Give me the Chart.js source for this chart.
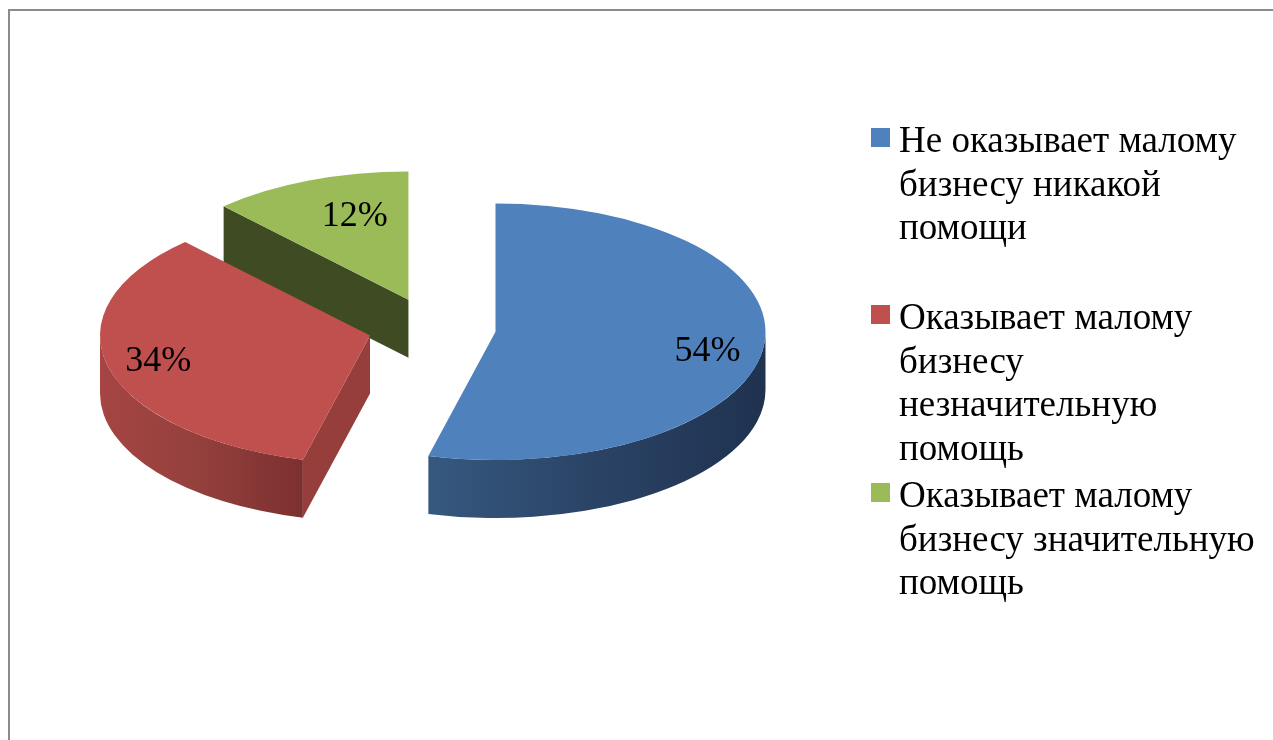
<!DOCTYPE html>
<html>
<head>
<meta charset="utf-8">
<script src="https://cdn.jsdelivr.net/npm/chart.js@4.4.0/dist/chart.umd.min.js"></script>
<style>
  html, body { margin: 0; padding: 0; background: #fff; overflow: hidden; }
  #wrap { position: relative; width: 1273px; height: 740px; overflow: hidden; }
  #frame { position: absolute; left: 8px; top: 9px; width: 1300px; height: 800px;
           border-top: 2px solid #8c8c8c; border-left: 2px solid #8c8c8c; }
  #chart { position: absolute; left: 0; top: 0; }
  #legend { position: absolute; left: 871px; top: 0; font-family: "Liberation Serif", "Times New Roman", serif;
            font-size: 37px; line-height: 43.5px; color: #000; }
  .item { position: absolute; left: 0; width: 400px; }
  .box { position: absolute; left: 0; top: 10px; width: 19px; height: 19px; }
  .txt { position: absolute; left: 28px; top: 0; width: 368px; }
</style>
</head>
<body>
<div id="wrap">
  <div id="frame"></div>
  <canvas id="chart" width="1273" height="740"></canvas>
  <div id="legend"></div>
</div>
<script>
// data
const categories = [
    'Не оказывает малому бизнесу никакой помощи',
    'Оказывает малому бизнесу незначительную помощь',
    'Оказывает малому бизнесу значительную помощь'
];
const shares = [54, 34, 12];
const pctLabels = shares.map(v => v + '%');
const topColors = ['#4f81bd', '#c0504d', '#9bbb59'];

// 3d look
const TILT = 0.475;
const DEPTH = 58;
const EXPLODE = 64;
const labelRadius = [0.8, 0.81, 0.68];
const labelTurn = [0.07, 0, 0.08];
const sideColors = [
    { rim: ['#36587f', '#2a4365', '#1f3250'], face: '#1f3250' },
    { rim: ['#a64543', '#93403d', '#7c302f'], face: '#953e3b' },
    { rim: ['#4a5a28', '#434f24', '#3b4720'], face: '#3f4b22' }
];

function centerY(chart) {
    return (chart.chartArea.top + chart.chartArea.bottom) / 2;
}

const pie3d = {
    id: 'pie3d',
    afterDatasetUpdate(chart, args) {
        // explode every slice away from the center
        const area = chart.chartArea;
        const cx = (area.left + area.right) / 2;
        const cy = centerY(chart);
        args.meta.data.forEach(a => {
            const mid = (a.startAngle + a.endAngle) / 2;
            a.x = cx + Math.cos(mid) * EXPLODE;
            a.y = cy + Math.sin(mid) * EXPLODE;
        });
    },
    beforeDatasetDraw(chart, args) {
        const ctx = chart.ctx;
        const cy = centerY(chart);
        args.meta.data.forEach((a, i) => {
            const X = a.x, Y = cy + (a.y - cy) * TILT;
            const r = a.outerRadius, ry = r * TILT;
            const s = a.startAngle, e = a.endAngle;
            const col = sideColors[i];
            // cut faces turned to the viewer
            const faces = [];
            if (Math.cos(s) < -1e-3) faces.push(s);
            if (Math.cos(e) > 1e-3) faces.push(e);
            faces.forEach(t => {
                const px = X + r * Math.cos(t), py = Y + ry * Math.sin(t);
                ctx.beginPath();
                ctx.moveTo(X, Y);
                ctx.lineTo(px, py);
                ctx.lineTo(px, py + DEPTH);
                ctx.lineTo(X, Y + DEPTH);
                ctx.closePath();
                ctx.fillStyle = col.face;
                ctx.fill();
            });
            // front part of the outer rim
            [[0, Math.PI], [2 * Math.PI, 3 * Math.PI]].forEach(([lo, hi]) => {
                const a0 = Math.max(s, lo), a1 = Math.min(e, hi);
                if (a1 <= a0) return;
                let xs = [X + r * Math.cos(a0), X + r * Math.cos(a1)];
                if (a0 <= lo && a1 >= lo) xs.push(X + r);
                if (a0 <= hi - Math.PI / 1e6 && a1 >= hi) xs.push(X - r);
                const g = ctx.createLinearGradient(Math.min(...xs), 0, Math.max(...xs), 0);
                g.addColorStop(0, col.rim[0]);
                g.addColorStop(0.5, col.rim[1]);
                g.addColorStop(1, col.rim[2]);
                ctx.beginPath();
                ctx.ellipse(X, Y, r, ry, 0, a0, a1);
                ctx.ellipse(X, Y + DEPTH, r, ry, 0, a1, a0, true);
                ctx.closePath();
                ctx.fillStyle = g;
                ctx.fill();
            });
        });
        // squash the tops into an ellipse
        ctx.save();
        ctx.translate(0, cy);
        ctx.scale(1, TILT);
        ctx.translate(0, -cy);
    },
    afterDatasetDraw(chart, args) {
        const ctx = chart.ctx;
        ctx.restore();
        const cy = centerY(chart);
        ctx.save();
        ctx.font = '36px "Liberation Serif", "Times New Roman", serif';
        ctx.fillStyle = '#000';
        ctx.textAlign = 'center';
        ctx.textBaseline = 'middle';
        args.meta.data.forEach((a, i) => {
            const mid = (a.startAngle + a.endAngle) / 2 + labelTurn[i];
            const d = a.outerRadius * labelRadius[i];
            const lx = a.x + Math.cos(mid) * d;
            const ly = cy + (a.y + Math.sin(mid) * d - cy) * TILT;
            ctx.fillText(pctLabels[i], lx, ly);
        });
        ctx.restore();
    }
};

new Chart(document.getElementById('chart'), {
    type: 'pie',
    data: {
        labels: categories,
        datasets: [{
            data: shares,
            backgroundColor: topColors,
            borderWidth: 0,
            radius: 270
        }]
    },
    options: {
        responsive: false,
        animation: false,
        events: [],
        radius: 270,
        layout: { padding: { left: 0, right: 409, top: 0, bottom: 84 } },
        plugins: {
            legend: { display: false },
            tooltip: { enabled: false }
        }
    },
    plugins: [pie3d]
});

// legend on the right
const legendTops = [118, 295, 473];
const legend = document.getElementById('legend');
categories.forEach((c, i) => {
    const item = document.createElement('div');
    item.className = 'item';
    item.style.top = legendTops[i] + 'px';
    item.innerHTML = '<div class="box" style="background:' + topColors[i] + '"></div><div class="txt">' + c + '</div>';
    legend.appendChild(item);
});
</script>
</body>
</html>
